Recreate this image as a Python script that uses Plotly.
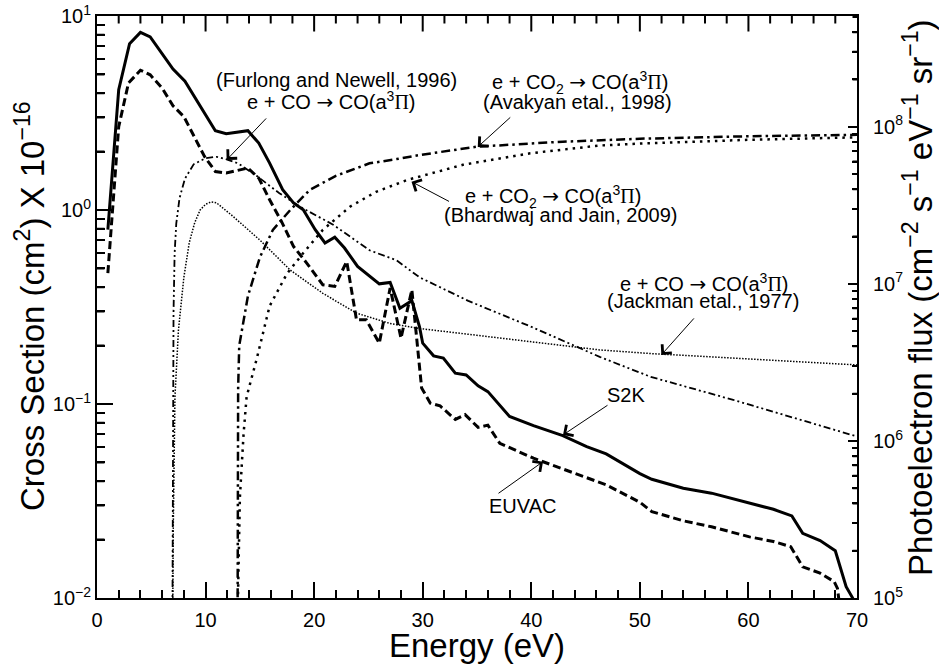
import math
import plotly.graph_objects as go

# ---------------- data ----------------
# Photoelectron flux (right axis)
s2k_energy = [1.0, 2.0, 3.0, 4.0, 4.9, 6.0, 7.0, 8.1, 10.9, 11.9, 13.9, 14.9, 15.9, 17.1, 18.1, 19.0,
              20.1, 21.0, 21.9, 22.8, 24.0, 26.0, 27.0, 27.9, 29.0, 29.7, 30.0, 31.0, 31.9, 33.0, 34.0,
              35.1, 36.0, 38.0, 40.2, 42.9, 45.1, 46.9, 50.0, 51.1, 54.0, 56.6, 60.1, 62.3, 64.0, 65.0,
              66.6, 68.0, 69.0, 69.6, 70.0]
s2k_flux = [2.21e7, 1.72e8, 3.38e8, 3.99e8, 3.73e8, 2.94e8, 2.33e8, 1.95e8, 9.44e7, 9.02e7, 9.44e7, 7.87e7,
            5.87e7, 3.98e7, 3.27e7, 2.96e7, 2.21e7, 1.82e7, 1.98e7, 1.69e7, 1.29e7, 1.00e7, 1.02e7, 7.0e6,
            7.82e6, 5.35e6, 4.19e6, 3.48e6, 3.37e6, 2.70e6, 2.63e6, 2.24e6, 2.06e6, 1.43e6, 1.25e6, 1.08e6,
            9.20e5, 8.26e5, 6.19e5, 5.70e5, 5.00e5, 4.65e5, 4.01e5, 3.67e5, 3.33e5, 2.58e5, 2.32e5, 2.00e5,
            1.18e5, 1.00e5, 7.9e4]

euvac_energy = [1.0, 2.0, 2.9, 4.0, 4.9, 6.0, 7.0, 8.0, 9.9, 10.9, 11.9, 13.9, 14.9, 15.9, 17.0, 18.1, 19.3,
                20.8, 21.9, 23.0, 23.9, 24.8, 26.0, 27.0, 28.0, 29.0, 29.9, 30.7, 31.6, 33.0, 33.9, 35.1,
                36.0, 37.1, 40.2, 43.2, 46.9, 50.0, 51.1, 54.0, 56.6, 60.1, 62.3, 63.9, 65.0, 66.6, 67.9,
                68.2, 68.5]
euvac_flux = [1.17e7, 1.00e8, 1.90e8, 2.29e8, 2.14e8, 1.76e8, 1.36e8, 1.16e8, 6.47e7, 5.19e7, 5.07e7, 5.46e7,
              4.71e7, 3.43e7, 2.49e7, 1.73e7, 1.36e7, 9.86e6, 9.62e6, 1.39e7, 5.90e6, 5.90e6, 4.19e6, 9.40e6,
              4.51e6, 9.16e6, 2.17e6, 1.74e6, 1.67e6, 1.37e6, 1.47e6, 1.22e6, 1.26e6, 9.66e5, 7.76e5, 6.53e5,
              5.25e5, 4.07e5, 3.55e5, 3.10e5, 2.84e5, 2.45e5, 2.29e5, 2.12e5, 1.58e5, 1.44e5, 1.27e5, 1.15e5,
              7.9e4]

# Cross sections (left axis, units 1e-16 cm^2)
furlong_energy = [6.95, 7.0, 7.05, 7.15, 7.3, 7.6, 8.1, 8.9, 10.0, 11.0, 12.0, 13.0, 14.7, 16.8, 18.7,
                  21.75, 25.1, 27.6, 29.7, 34.2, 40.0, 46.3, 51.0, 58.6, 70.0]
furlong_xs = [0.009, 0.1, 0.3, 0.6, 0.85, 1.15, 1.45, 1.72, 1.85, 1.88, 1.82, 1.74, 1.5, 1.22, 1.04,
              0.84, 0.62, 0.55, 0.45, 0.34, 0.25, 0.175, 0.138, 0.105, 0.068]

jackman_energy = [6.98, 7.02, 7.18, 7.5, 8.0, 8.5, 9.0, 9.5, 10.0, 10.5, 11.0, 12.5, 15.0, 17.8, 20.8,
                  23.9, 27.0, 29.7, 35.0, 46.3, 51.0, 60.0, 70.0]
jackman_xs = [0.009, 0.022, 0.109, 0.24, 0.45, 0.68, 0.86, 1.0, 1.07, 1.10, 1.09, 0.93, 0.70, 0.49, 0.372,
              0.294, 0.26, 0.245, 0.226, 0.19, 0.182, 0.17, 0.159]

avakyan_energy = [12.95, 12.97, 13.0, 13.1, 13.9, 15.0, 16.2, 17.8, 19.6, 22.0, 25.1, 27.6, 29.7, 35.0,
                  42.9, 50.0, 60.0, 70.0]
avakyan_xs = [0.008, 0.03, 0.12, 0.2, 0.36, 0.57, 0.79, 1.0, 1.27, 1.5, 1.74, 1.83, 1.92, 2.12,
              2.25, 2.33, 2.40, 2.44]

bhardwaj_energy = [12.95, 13.05, 13.16, 13.5, 13.78, 14.7, 15.3, 15.9, 17.5, 19.0, 20.8, 23.3, 25.7, 28.6,
                   33.7, 39.9, 46.3, 50.0, 60.0, 70.0]
bhardwaj_xs = [0.008, 0.02, 0.033, 0.07, 0.109, 0.17, 0.23, 0.32, 0.47, 0.6, 0.79, 1.04, 1.24, 1.43,
               1.71, 1.96, 2.15, 2.2, 2.3, 2.37]

x_tick_vals = [0, 10, 20, 30, 40, 50, 60, 70]
x_minor_vals = [2, 4, 6, 8, 12, 14, 16, 18, 22, 24, 26, 28, 32, 34, 36, 38, 42, 44, 46, 48,
                52, 54, 56, 58, 62, 64, 66, 68]
left_tick_vals = [0.01, 0.1, 1, 10]
left_tick_text = ["10<sup>\u22122</sup>", "10<sup>\u22121</sup>", "10<sup>0</sup>", "10<sup>1</sup>"]
right_tick_vals = [1e5, 1e6, 1e7, 1e8]
right_tick_text = ["10<sup>5</sup>", "10<sup>6</sup>", "10<sup>7</sup>", "10<sup>8</sup>"]
left_minor = [k * 10 ** d for d in (-2, -1, 0) for k in range(2, 10)]
right_minor = [k * 10 ** d for d in (5, 6, 7) for k in range(2, 10)] + [2e8, 3e8, 4e8, 5e8]

FONT = "Liberation Sans, Arial, Helvetica, sans-serif"
W, H = 939, 666
ML, MR, MT, MB = 97, 82, 16, 68
PW, PH = W - ML - MR, H - MT - MB
X_RANGE = (0, 70)
Y_LOG_RANGE = (-2.0, 1.0)
Y2_LOG_RANGE = (5.0, 8.705)

ARROW = '<span style="font-family:DejaVu Sans">\u2192</span>'
PI = '<span style="font-family:Liberation Serif">\u03a0</span>'


def px(xp):
    return (xp - ML) / PW


def py(yp):
    return (H - MB - yp) / PH


fig = go.Figure()
fig.add_trace(go.Scatter(x=furlong_energy, y=furlong_xs, mode="lines",
                         line=dict(color="black", width=1.8, dash="7px,3px,2px,3px,2px,3px"), yaxis="y"))
fig.add_trace(go.Scatter(x=jackman_energy, y=jackman_xs, mode="lines",
                         line=dict(color="black", width=1.5, dash="1.5px,1.5px"), yaxis="y"))
fig.add_trace(go.Scatter(x=avakyan_energy, y=avakyan_xs, mode="lines",
                         line=dict(color="black", width=2.5, dash="9px,4px,2.5px,4px"), yaxis="y"))
fig.add_trace(go.Scatter(x=bhardwaj_energy, y=bhardwaj_xs, mode="lines",
                         line=dict(color="black", width=2.5, dash="2.5px,5px"), yaxis="y"))
fig.add_trace(go.Scatter(x=s2k_energy, y=s2k_flux, mode="lines",
                         line=dict(color="black", width=3), yaxis="y2"))
fig.add_trace(go.Scatter(x=euvac_energy, y=euvac_flux, mode="lines",
                         line=dict(color="black", width=3, dash="8px,4px"), yaxis="y2"))

fig.update_layout(
    template="none",
    width=W, height=H,
    margin=dict(l=ML, r=MR, t=MT, b=MB),
    paper_bgcolor="white", plot_bgcolor="white",
    showlegend=False,
    font=dict(family=FONT, color="black", size=20),
    xaxis=dict(range=list(X_RANGE), tickmode="array", tickvals=x_tick_vals,
               ticks="inside", ticklen=16, tickwidth=2, tickcolor="#000000",
               showline=True, linecolor="black", linewidth=2, mirror=True,
               showgrid=False, zeroline=False, tickfont=dict(size=20), ticklabelstandoff=3,
               minor=dict(dtick=2, ticks="inside", ticklen=8, tickwidth=2, tickcolor="#000000",
                          showgrid=False)),
    yaxis=dict(type="log", range=list(Y_LOG_RANGE), tickmode="array", tickvals=left_tick_vals,
               ticktext=left_tick_text, ticks="inside", ticklen=16, tickwidth=2, tickcolor="#000000",
               showline=True, linecolor="black", linewidth=2,
               showgrid=False, zeroline=False, tickfont=dict(size=20),
               minor=dict(dtick="D1", ticks="inside", ticklen=8, tickwidth=2, tickcolor="#000000",
                          showgrid=False)),
    yaxis2=dict(type="log", range=list(Y2_LOG_RANGE), overlaying="y", side="right",
                tickmode="array", tickvals=right_tick_vals, ticktext=right_tick_text,
                ticks="inside", ticklen=9, tickwidth=2, tickcolor="#000000",
                showline=True, linecolor="black", linewidth=2, showgrid=False,
                zeroline=False, tickfont=dict(size=20), ticklabelstandoff=10,
                minor=dict(dtick="D1", ticks="inside", ticklen=5, tickwidth=2, tickcolor="#000000",
                           showgrid=False)),
)

annotations = []


def tick_mark(xref, yref, x, y, ax, ay):
    """Short inward tick drawn as a headless annotation arrow."""
    return dict(text="", xref=xref, yref=yref, x=x, y=y, ax=ax, ay=ay, axref="pixel", ayref="pixel",
                showarrow=True, arrowhead=0, arrowwidth=2, arrowcolor="black", standoff=0,
                startstandoff=0, font=dict(size=1), borderpad=0)


# x ticks on the top frame (mirrored), plus left/right minor ticks
for vals, length in ((x_tick_vals[1:-1], 16), (x_minor_vals, 8)):
    for v in vals:
        annotations.append(tick_mark("x", "y", v, Y_LOG_RANGE[1], 0, length))
for v in left_minor:
    annotations.append(tick_mark("x", "y", X_RANGE[0], math.log10(v), 8, 0))
for v in right_minor:
    annotations.append(tick_mark("x", "y2", X_RANGE[1], math.log10(v), -5, 0))

# axis titles
annotations.append(dict(text="Energy (eV)", xref="paper", yref="paper", x=px(477), y=py(645),
                        showarrow=False, font=dict(size=33), xanchor="center", yanchor="middle"))
annotations.append(dict(text="Cross Section (cm<sup>2</sup>) X 10<sup>\u221216</sup>", xref="paper",
                        yref="paper", x=px(30), y=py(306), showarrow=False, textangle=-90,
                        font=dict(size=33), xanchor="center", yanchor="middle"))
annotations.append(dict(text="Photoelectron flux (cm<sup>\u22122</sup> s<sup>\u22121</sup> eV<sup>\u22121</sup> sr<sup>\u22121</sup>)",
                        xref="paper", yref="paper", x=px(918), y=py(298), showarrow=False,
                        textangle=-90, font=dict(size=33), xanchor="center", yanchor="middle"))

labels = [
    ("(Furlong and Newell, 1996)", 336, 80),
    ("e + CO " + ARROW + " CO(a<sup>3</sup>" + PI + ")", 331, 101),
    ("e + CO<sub>2</sub> " + ARROW + " CO(a<sup>3</sup>" + PI + ")", 580, 82),
    ("(Avakyan etal., 1998)", 577, 102),
    ("e + CO<sub>2</sub> " + ARROW + " CO(a<sup>3</sup>" + PI + ")", 553, 196),
    ("(Bhardwaj and Jain, 2009)", 560, 215),
    ("e + CO " + ARROW + " CO(a<sup>3</sup>" + PI + ")", 704, 283),
    ("(Jackman etal., 1977)", 703, 301),
    ("S2K", 626, 395),
    ("EUVAC", 522, 506),
]
for t, xx, yy in labels:
    annotations.append(dict(text=t, xref="paper", yref="paper", x=px(xx), y=py(yy), showarrow=False,
                            font=dict(size=20), xanchor="center", yanchor="middle"))

# pointer arrows: tip on the curve (data coords), tail offset in pixels
arrows = [
    ("x", "y", 11.94, 0.258, 40, -42),
    ("x", "y", 35.07, 0.325, 33, -30),
    ("x", "y", 28.97, 0.146, 38, 20),
    ("x", "y", 51.98, -0.747, 33, -37),
    ("x", "y2", 42.92, 6.038, 45, -30),
    ("x", "y2", 41.08, 5.868, -45, 32),
]
for xr, yr, xx, yy, axo, ayo in arrows:
    annotations.append(dict(text="", xref=xr, yref=yr, x=xx, y=yy, ax=axo, ay=ayo,
                            axref="pixel", ayref="pixel", showarrow=True, arrowhead=4,
                            arrowsize=2.5, arrowwidth=1, arrowcolor="black", standoff=0,
                            font=dict(size=1), borderpad=0))

fig.update_layout(annotations=annotations)
fig.write_html("out.html")
